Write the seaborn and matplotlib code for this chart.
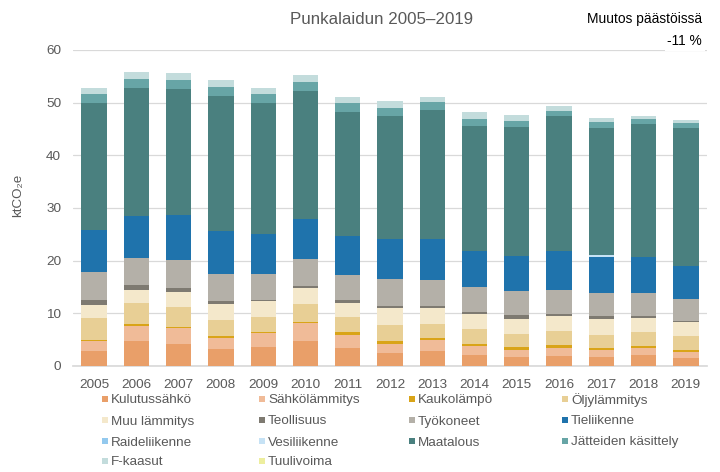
import matplotlib
matplotlib.use("Agg")
import matplotlib.pyplot as plt
import seaborn as sns
import numpy as np
import pandas as pd
from matplotlib.patches import Rectangle

years = [str(y) for y in range(2005, 2020)]

kulutussahko   = [2.85, 4.75, 4.25, 3.3, 3.65, 4.75, 3.5, 2.4, 2.85, 2.15, 1.8, 1.95, 1.8, 2.1, 1.6]
sahkolammitys  = [1.95, 2.9, 2.95, 2.1, 2.55, 3.45, 2.45, 1.8, 2.1, 1.65, 1.3, 1.55, 1.3, 1.4, 1.1]
kaukolampo     = [0.2, 0.25, 0.25, 0.35, 0.2, 0.2, 0.5, 0.5, 0.3, 0.4, 0.45, 0.5, 0.25, 0.35, 0.35]
oljylammitys   = [4.1, 4.05, 3.75, 3.05, 2.95, 3.4, 2.8, 3.1, 2.8, 2.9, 2.6, 2.65, 2.6, 2.55, 2.65]
muu_lammitys   = [2.55, 2.55, 2.85, 2.9, 2.95, 2.95, 2.7, 3.15, 2.95, 2.85, 2.85, 2.9, 2.95, 2.8, 2.7]
teollisuus     = [0.85, 0.8, 0.85, 0.7, 0.3, 0.5, 0.55, 0.45, 0.4, 0.25, 0.6, 0.3, 0.6, 0.35, 0.15]
tyokoneet      = [5.3, 5.15, 5.15, 5.1, 4.9, 5.0, 4.7, 5.05, 4.95, 4.8, 4.65, 4.6, 4.3, 4.25, 4.15]
tieliikenne    = [8.0, 8.05, 8.65, 8.1, 7.6, 7.75, 7.55, 7.6, 7.7, 6.9, 6.7, 7.4, 6.95, 6.9, 6.35]
raideliikenne  = [0.0] * 15
vesiliikenne   = [0, 0, 0, 0, 0, 0, 0, 0, 0, 0, 0, 0, 0.25, 0, 0]
maatalous      = [24.1, 24.2, 23.9, 25.65, 24.8, 24.3, 23.55, 23.45, 24.65, 23.7, 24.35, 25.6, 24.25, 25.3, 26.2]
jatteiden      = [1.7, 1.8, 1.7, 1.75, 1.7, 1.7, 1.6, 1.55, 1.35, 1.35, 1.3, 1.05, 1.05, 0.9, 0.95]
f_kaasut       = [1.1, 1.25, 1.3, 1.3, 1.25, 1.3, 1.2, 1.2, 1.05, 1.25, 1.0, 0.85, 0.7, 0.6, 0.5]
tuulivoima     = [0.0] * 15

series_names = ["Kulutussähkö", "Sähkölämmitys", "Kaukolämpö", "Öljylämmitys",
                "Muu lämmitys", "Teollisuus", "Työkoneet", "Tieliikenne",
                "Raideliikenne", "Vesiliikenne", "Maatalous", "Jätteiden käsittely",
                "F-kaasut", "Tuulivoima"]
series_values = [kulutussahko, sahkolammitys, kaukolampo, oljylammitys, muu_lammitys,
                 teollisuus, tyokoneet, tieliikenne, raideliikenne, vesiliikenne,
                 maatalous, jatteiden, f_kaasut, tuulivoima]
colors = ["#E99F69", "#F0BB98", "#D9A418", "#E8CF95", "#F4E8CB", "#7E7A71",
          "#B4B0A8", "#1F73AC", "#93C9EE", "#C6E2F5", "#4A807F", "#67A5A6",
          "#C3DCDC", "#EDEE9E"]

sns.set_theme(style="white")
plt.rcParams['font.family'] = ['Liberation Sans', 'DejaVu Sans']

W, H = 720, 472
fig = plt.figure(figsize=(7.2, 4.72), dpi=100)
ax = fig.add_axes([73/W, 1 - 366/H, (707-73)/W, (366-50)/H])

bottom = np.zeros(len(years))
for name, vals, col in zip(series_names, series_values, colors):
    v = np.array(vals, dtype=float)
    sns.barplot(x=years, y=v, bottom=bottom, color=col, width=0.6, ax=ax,
                saturation=1, edgecolor="none", linewidth=0, zorder=3)
    bottom = bottom + v

ax.set_ylim(0, 60)
ax.set_xlim(-0.5, 14.5)
ax.set_yticks(range(0, 61, 10))
ax.yaxis.grid(True, color="#D9D9D9", linewidth=0.9, zorder=0)
ax.xaxis.grid(False)
for s in ["top", "right", "left"]:
    ax.spines[s].set_visible(False)
ax.spines["bottom"].set_color("#D9D9D9")
ax.tick_params(axis="both", which="both", length=0, labelsize=9.7, colors="#595959")
ax.tick_params(axis="x", pad=9.5)
ax.tick_params(axis="y", pad=8.5)
ax.set_xlabel("")
ax.set_ylabel("")

fig.text(18/W, 1 - 195/H, "ktCO₂e", rotation=90, ha="center", va="center",
         fontsize=9.6, color="#595959")
fig.text(382/W, 1 - 20/H, "Punkalaidun 2005–2019", ha="center", va="center",
         fontsize=12.2, color="#595959")
fig.text(702/W, 1 - 18.5/H, "Muutos päästöissä", ha="right", va="center",
         fontsize=9.9, color="#000000",
         bbox=dict(facecolor="white", edgecolor="none", pad=2))
fig.text(702/W, 1 - 41/H, "-11 %", ha="right", va="center",
         fontsize=9.9, color="#000000",
         bbox=dict(facecolor="white", edgecolor="none", pad=2))

# legend, row-major, 4 columns
col_x = [102, 259, 409, 562]
row_y = [398.7, 420.0, 441.0, 460.7]
msz = 6
for i, (name, col) in enumerate(zip(series_names, colors)):
    r, c = divmod(i, 4)
    x0, yc = col_x[c], row_y[r]
    fig.patches.append(Rectangle((x0/W, 1 - (yc + msz/2)/H), msz/W, msz/H,
                                 transform=fig.transFigure, facecolor=col,
                                 edgecolor="none", figure=fig))
    fig.text((x0 + 9)/W, 1 - yc/H, name, ha="left", va="center_baseline",
             fontsize=9.7, color="#595959")

fig.savefig("out.png", dpi=100)
